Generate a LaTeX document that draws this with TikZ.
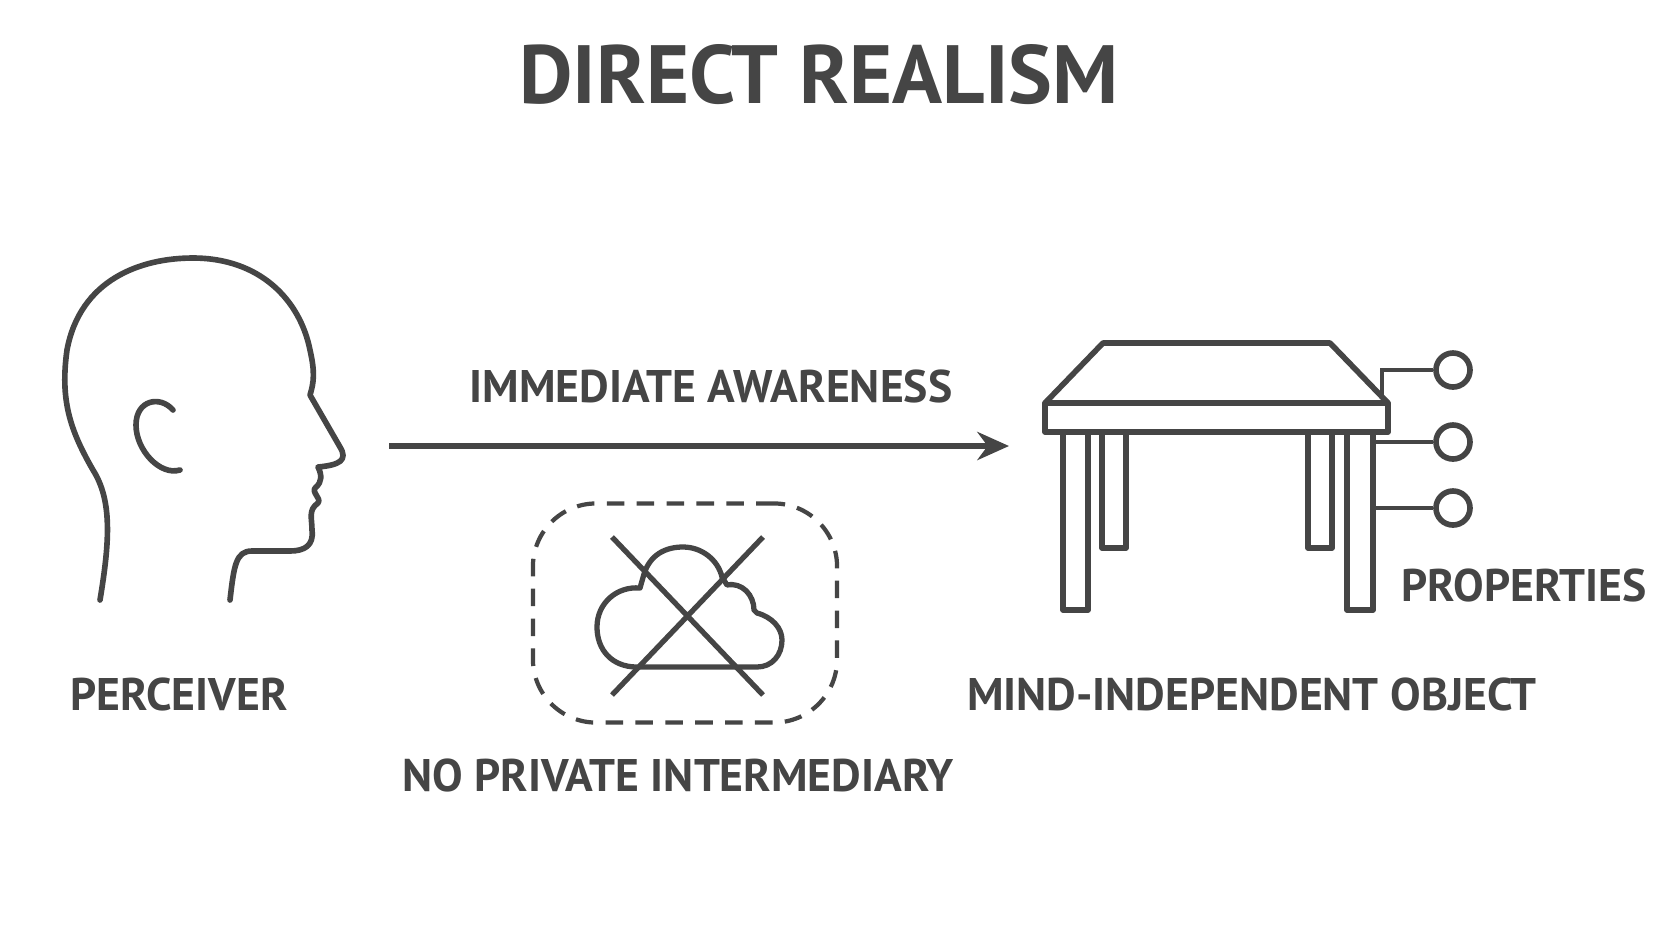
\documentclass[tikz,border=0pt]{standalone}
\usepackage{fontspec}
\setmainfont{PT Sans}
\usetikzlibrary{arrows.meta,positioning}
\definecolor{ink}{HTML}{454545}
\tikzset{
	>={Stealth[length=9pt,width=8pt]},
}

\begin{document}
\begin{tikzpicture}[x=0.01cm,y=-0.01cm,
	line/.style = {draw=ink, line width=1.6pt, line join=round},
	thin/.style = {draw=ink, line width=1.1pt},
	prop/.style = {circle, draw=ink, line width=1.6pt, inner sep=0, minimum size=0.34cm},
	label/.style = {text=ink, font=\bfseries\fontsize{13}{15}\selectfont, inner sep=0}]
\useasboundingbox[fill=white] (0,0) rectangle (1672,941);
% title
\node[text=ink, font=\bfseries\fontsize{23.5}{28}\selectfont] (title) at (819,75) {DIRECT REALISM};
% head
\draw[line, line cap=round] (100,600) .. controls (110,540) and (112,500) .. (93,470)
	.. controls (70,430) and (60,400) .. (67,350)
	.. controls (80,280) and (140,258) .. (193,258)
	.. controls (260,258) and (300,300) .. (310,350)
	.. controls (315,372) and (314,382) .. (310,395)
	-- (340,447) .. controls (348,460) and (340,465) .. (318,467)
	.. controls (322,475) and (322,482) .. (316,487)
	.. controls (310,492) and (322,498) .. (318,503)
	.. controls (308,510) and (312,518) .. (312,530)
	.. controls (314,545) and (305,551) .. (290,551)
	-- (252,551) .. controls (236,551) and (234,565) .. (230,600);
\draw[line, line cap=round] (173,410) .. controls (160,395) and (136,400) .. (136,425)
	.. controls (136,450) and (160,476) .. (180,470);
\node[label] (perceiver) at (179,694) {PERCEIVER};
% awareness arrow
\coordinate (arrowstart) at (389,446);
\coordinate (arrowend) at (1009,446);
\draw[line,->] (arrowstart) -- (arrowend);
\node[label] (awareness) at (711,386) {IMMEDIATE AWARENESS};
% no intermediary
\node[draw=ink, line width=1.2pt, dash pattern=on 5pt off 3.5pt, rounded corners=18pt,
	minimum width=3.04cm, minimum height=2.19cm, inner sep=0] (box) at (685,613) {};
\draw[line, line width=1.5pt] (637,667) .. controls (612,667) and (597,650) .. (597,627)
	.. controls (597,603) and (617,586) .. (640,588) -- (644,574)
	.. controls (650,555) and (665,547) .. (683,547)
	.. controls (702,547) and (718,560) .. (722,577) -- (727,585)
	.. controls (742,582) and (754,595) .. (754,610) -- (757,613)
	.. controls (772,617) and (782,628) .. (782,640)
	.. controls (782,655) and (772,667) .. (757,667) -- cycle;
\draw[thin, line width=1.5pt] (612,537) -- (763,695) (763,537) -- (612,695);
\node[label] (nointer) at (678,775) {NO PRIVATE INTERMEDIARY};
% table
\draw[line] (1045,403) -- (1103,343) -- (1330,343) -- (1388,403);
\draw[line] (1045,403) rectangle (1388,432);
\foreach \xa/\xb/\yb in {1063/1088/610, 1102/1126/548, 1308/1332/548, 1347/1373/610}
	\draw[line] (\xa,432) rectangle (\xb,\yb);
\node[label] (object) at (1252,694) {MIND-INDEPENDENT OBJECT};
% properties
\node[prop] (prop1) at (1453,370) {};
\node[prop] (prop2) at (1453,442) {};
\node[prop] (prop3) at (1453,508) {};
\coordinate (slabcorner) at (1382,397);
\draw[thin] (slabcorner) |- (prop1.west);
\draw[thin] (1373,442) -- (prop2.west);
\draw[thin] (1373,508) -- (prop3.west);
\node[label] (properties) at (1524,585) {PROPERTIES};
\end{tikzpicture}
\end{document}
